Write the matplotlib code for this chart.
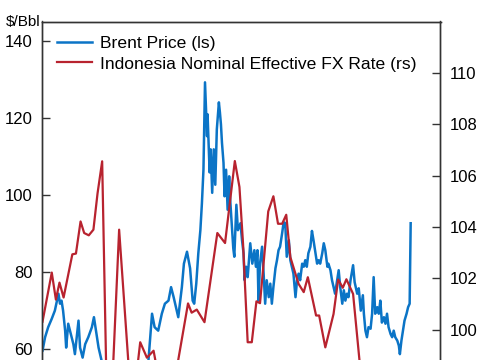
import matplotlib

matplotlib.use("Agg")
import matplotlib.pyplot as plt  # noqa: E402

# Brent crude, $/bbl (left scale); t in decimal years
brent_t = [2019.01, 2019.06, 2019.12, 2019.19, 2019.25, 2019.32, 2019.35, 2019.38, 2019.41, 2019.45,
           2019.47, 2019.51, 2019.56, 2019.61, 2019.64, 2019.71, 2019.74, 2019.79, 2019.84, 2019.90,
           2019.97, 2020.01, 2020.05, 2020.10, 2020.13, 2020.16, 2020.20, 2020.25, 2020.30, 2020.38,
           2020.45, 2020.55, 2020.70, 2020.80, 2020.88, 2020.98, 2021.07, 2021.14, 2021.19, 2021.26,
           2021.33, 2021.39, 2021.46, 2021.51, 2021.56, 2021.62, 2021.65, 2021.72, 2021.76, 2021.82,
           2021.88, 2021.93, 2021.96, 2022.00, 2022.04, 2022.08, 2022.11, 2022.14, 2022.17, 2022.21,
           2022.22, 2022.26, 2022.28, 2022.31, 2022.34, 2022.37, 2022.40, 2022.44, 2022.46, 2022.48,
           2022.50, 2022.53, 2022.55, 2022.58, 2022.61, 2022.64, 2022.66, 2022.69, 2022.72, 2022.74,
           2022.78, 2022.81, 2022.86, 2022.89, 2022.92, 2022.94, 2022.97, 2023.00, 2023.05, 2023.09,
           2023.13, 2023.16, 2023.19, 2023.21, 2023.24, 2023.28, 2023.31, 2023.34, 2023.37, 2023.41,
           2023.44, 2023.47, 2023.50, 2023.54, 2023.57, 2023.60, 2023.63, 2023.67, 2023.70, 2023.73,
           2023.76, 2023.80, 2023.83, 2023.86, 2023.89, 2023.93, 2023.96, 2023.99, 2024.02, 2024.06,
           2024.09, 2024.12, 2024.15, 2024.18, 2024.22, 2024.25, 2024.28, 2024.32, 2024.35, 2024.38,
           2024.41, 2024.45, 2024.48, 2024.51, 2024.55, 2024.57, 2024.61, 2024.64, 2024.67, 2024.70,
           2024.74, 2024.77, 2024.80, 2024.84, 2024.87, 2024.90, 2024.93, 2024.96, 2025.00, 2025.05,
           2025.08, 2025.13, 2025.16, 2025.20, 2025.24, 2025.26, 2025.29, 2025.32, 2025.35, 2025.39,
           2025.42, 2025.45, 2025.48, 2025.52, 2025.55, 2025.58, 2025.61, 2025.65, 2025.68, 2025.71,
           2025.74, 2025.78, 2025.81, 2025.84, 2025.87, 2025.91, 2025.94, 2025.96, 2025.99, 2026.02,
           2026.05, 2026.09, 2026.12, 2026.15, 2026.17]
brent = [59.5, 63.0, 65.6, 67.8, 69.9, 74.3, 71.7, 72.5, 69.9, 64.7,
         60.3, 66.5, 63.8, 61.2, 58.6, 67.3, 60.3, 57.7, 61.2, 63.0,
         65.6, 68.2, 64.7, 60.3, 58.6, 56.9, 50.0, 30.0, 22.0, 35.0,
         42.0, 44.0, 42.0, 40.0, 48.0, 52.0, 56.9, 69.1, 65.6, 64.7,
         69.1, 71.7, 72.5, 76.0, 73.4, 69.9, 68.2, 76.0, 82.1, 85.2,
         80.9, 72.5, 71.7, 76.9, 84.8, 90.8, 97.8, 106.5, 129.2, 115.2,
         120.9, 105.8, 111.8, 100.5, 111.8, 102.6, 117.0, 124.0, 121.4, 118.3,
         113.5, 108.3, 99.6, 106.5, 96.1, 104.8, 98.7, 92.6, 86.1, 83.9,
         97.4, 90.8, 92.6, 88.2, 84.8, 77.8, 81.3, 78.6, 87.4, 82.1,
         85.6, 81.3, 85.6, 72.5, 82.1, 86.5, 79.5, 71.7, 77.8, 73.4,
         76.9, 71.7, 76.0, 80.9, 83.0, 85.6, 86.5, 90.0, 92.9, 92.6,
         83.9, 88.2, 83.0, 81.3, 79.5, 73.4, 77.8, 79.5, 77.8, 82.1,
         81.3, 83.0, 81.3, 84.8, 86.5, 90.6, 88.2, 84.8, 82.1, 83.0,
         82.1, 84.8, 87.4, 85.6, 81.3, 82.1, 80.4, 77.8, 76.0, 74.3,
         77.8, 80.4, 76.0, 71.7, 75.2, 72.5, 74.3, 73.4, 77.8, 81.7,
         77.3, 74.3, 75.7, 69.9, 73.9, 69.1, 64.7, 63.0, 65.6, 65.2,
         69.1, 78.6, 69.1, 70.8, 69.1, 72.5, 66.8, 68.2, 66.5, 69.1,
         65.6, 63.8, 63.0, 64.7, 63.0, 62.1, 60.8, 58.6, 62.1, 64.7,
         67.3, 69.1, 70.8, 71.7, 92.6]

# Indonesia nominal effective FX rate, index (right scale)
neer_t = [2019.01, 2019.19, 2019.27, 2019.34, 2019.42, 2019.59, 2019.66, 2019.75, 2019.82, 2019.91,
          2020.00, 2020.08, 2020.17, 2020.25, 2020.33, 2020.50, 2020.75, 2020.91, 2021.04, 2021.17,
          2021.26, 2021.40, 2021.53, 2021.59, 2021.84, 2021.91, 2022.01, 2022.16, 2022.41, 2022.56,
          2022.75, 2022.84, 2022.91, 2023.00, 2023.08, 2023.17, 2023.24, 2023.40, 2023.50, 2023.59,
          2023.67, 2023.75, 2023.83, 2023.99, 2024.09, 2024.17, 2024.33, 2024.39, 2024.51, 2024.67,
          2024.76, 2024.85, 2024.92, 2025.05, 2025.25, 2025.33, 2025.42]
neer = [100.32, 102.23, 101.18, 101.84, 101.26, 102.94, 102.97, 104.22, 103.77, 103.68,
        103.90, 105.31, 106.56, 98.31, 96.20, 103.90, 96.72, 99.52, 98.92, 99.19,
        98.22, 97.83, 98.00, 98.14, 101.03, 100.67, 100.79, 100.30, 103.77, 103.38,
        106.57, 105.56, 103.35, 99.52, 99.52, 101.11, 101.04, 104.61, 105.20, 104.13,
        104.13, 104.48, 102.83, 101.79, 101.47, 102.05, 100.56, 100.56, 99.32, 100.62,
        101.96, 101.64, 101.97, 101.40, 97.24, 96.90, 97.30]

left_ticks = [60, 80, 100, 120, 140]
right_ticks = [100, 102, 104, 106, 108, 110]

BLUE = "#0b74c6"
RED = "#b8232f"
SPINE = "#333333"

plt.rcParams["font.family"] = ["Liberation Sans", "DejaVu Sans"]

W, H = 485, 360
fig = plt.figure(figsize=(W / 100, H / 100), dpi=100)
# chart is cut at the bottom edge: the axes run past the canvas
top_px, left_px, right_px = 21.5, 42, 440.5
height_px = 145 * 3.85
ax = fig.add_axes([left_px / W, 1 - (top_px + height_px) / H, (right_px - left_px) / W, height_px / H])
ax2 = ax.twinx()

ln1, = ax.plot(brent_t, brent, color=BLUE, lw=1.8, label="Brent Price (ls)")
ln2, = ax2.plot(neer_t, neer, color=RED, lw=1.6, label="Indonesia Nominal Effective FX Rate (rs)")

ax.set_xlim(2019.0, 2026.75)
ax.set_ylim(0, 145)
ax2.set_ylim(112 - height_px / 25.7, 112)
ax.set_yticks(left_ticks)
ax2.set_yticks(right_ticks)
ax.set_xticks([])

for a in (ax, ax2):
    for s in a.spines.values():
        s.set_color(SPINE)
        s.set_linewidth(1.0)
    a.tick_params(axis="y", direction="in", length=5.5, width=1.0, color=SPINE, labelsize=12, pad=6.5)

ax2.legend(handles=[ln1, ln2], loc="upper left", bbox_to_anchor=(57 / W, 1 - 35.5 / H),
           bbox_transform=fig.transFigure, frameon=False, fontsize=12.6, handlelength=2.0,
           handletextpad=0.45, labelspacing=0.32, borderpad=0, borderaxespad=0)

fig.text(40 / W, 1 - 26 / H, "$/Bbl", ha="right", va="baseline", fontsize=11)

fig.savefig("out.png", dpi=100)
